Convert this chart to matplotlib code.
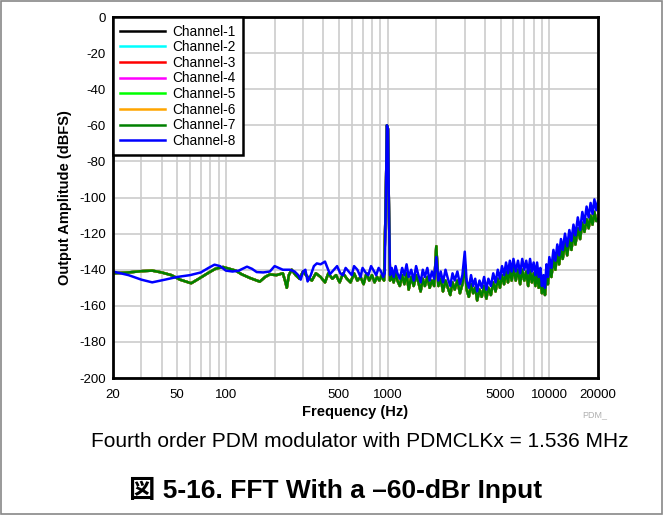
import matplotlib.pyplot as plt
import matplotlib.patches as patches
import numpy as np

plt.rcParams['font.family'] = ['Liberation Sans', 'Noto Sans CJK JP', 'DejaVu Sans']
plt.rcParams['axes.unicode_minus'] = False

CHANNELS = ["Channel-1", "Channel-2", "Channel-3", "Channel-4",
            "Channel-5", "Channel-6", "Channel-7", "Channel-8"]
COLORS = ["black", "cyan", "red", "magenta", "#00ff00", "orange", "#008000", "#0000ff"]

# channel 7 (green) trace, channels 1-6 lie under it
f_low = [20, 25, 30, 35, 40, 46, 52, 61, 68, 77, 86, 96, 105, 115, 125, 141, 150, 162, 175, 187,
         205, 225, 232, 238, 245, 255, 270, 285, 300, 320, 340, 360, 385, 410, 430, 455, 480, 505,
         530, 560, 590, 620, 650, 680, 710, 740, 770, 800, 830, 860, 890, 920, 950, 975, 990, 1005,
         1020, 1035, 1060, 1090, 1120, 1150, 1190, 1230, 1270, 1310, 1350, 1400, 1450, 1500, 1550,
         1600, 1650, 1700, 1760, 1820, 1880, 1940, 2000, 2060, 2130, 2200, 2280, 2360, 2440, 2520,
         2600, 2700, 2800, 2900, 3000, 3080, 3180, 3280, 3380, 3480, 3580, 3700, 3820, 3950, 4080,
         4200, 4350, 4500, 4650, 4800, 4950, 5100, 5250, 5400, 5550, 5700, 5850, 6000, 6200, 6400,
         6600, 6800, 7000, 7200, 7400, 7600, 7800, 8000, 8200, 8400, 8600, 8800, 9000, 9200, 9400,
         9600, 9800, 10000, 10300, 10600, 10900, 11200, 11500, 11800, 12100, 12500, 12900, 13300,
         13700, 14100, 14500, 15000, 15500, 16000, 16500, 17000, 17500, 18000, 18500, 19000, 19500,
         20000]
a_low = [-142, -141.5, -140.8, -140.5, -141.5, -143, -145.5, -147.5, -145, -142, -139.5, -138.5,
         -139.5, -140.5, -142.5, -144.6, -145.5, -146.6, -144, -142.6, -143, -142, -146, -150, -143,
         -140, -143, -145, -141, -144, -146, -142, -144, -147, -142, -145, -143, -147, -142, -145,
         -147, -142, -146, -144, -148, -142, -146, -143, -147, -144, -146, -143, -146, -100, -60, -62,
         -110, -146, -143, -147, -142, -146, -149, -143, -148, -142, -151, -144, -149, -143, -147,
         -152, -145, -149, -144, -150, -146, -149, -127, -149, -145, -152, -146, -150, -154, -147,
         -151, -146, -153, -148, -137, -151, -155, -148, -153, -150, -157, -151, -155, -149, -156,
         -150, -154, -147, -152, -145, -150, -143, -148, -141, -147, -140, -146, -139, -146, -140,
         -148, -140, -146, -141, -149, -140, -147, -142, -149, -142, -150, -144, -153, -147, -154,
         -142, -148, -138, -144, -134, -140, -131, -137, -128, -134, -125, -132, -123,
         -129, -120, -126, -117, -123, -114, -119, -112, -117, -110, -115, -108, -113,
         -112]

# channel 8 (blue) trace, drawn on top
f_high = [20, 25, 30, 35, 42, 50, 60, 70, 78, 85, 92, 100, 110, 120, 135, 145, 155, 170, 187, 200,
          212, 225, 248, 266, 280, 290, 300, 310, 320, 335, 350, 365, 385, 410, 425, 440, 465, 487,
          510, 530, 550, 575, 600, 620, 650, 680, 700, 730, 760, 790, 820, 850, 880, 910, 940, 960,
          975, 990, 1005, 1020, 1035, 1060, 1090, 1120, 1150, 1190, 1230, 1270, 1310, 1350, 1400,
          1450, 1500, 1550, 1600, 1650, 1700, 1760, 1820, 1880, 1940, 2000, 2060, 2130, 2200, 2280,
          2360, 2440, 2520, 2600, 2700, 2800, 2900, 3000, 3080, 3180, 3280, 3380, 3480, 3580, 3700,
          3820, 3950, 4080, 4200, 4350, 4500, 4650, 4800, 4950, 5100, 5250, 5400, 5550, 5700, 5850,
          6000, 6200, 6400, 6600, 6800, 7000, 7200, 7400, 7600, 7800, 8000, 8200, 8400, 8600, 8800,
          9000, 9200, 9400, 9600, 9800, 10000, 10300, 10600, 10900, 11200, 11500, 11800, 12100,
          12500, 12900, 13300, 13700, 14100, 14500, 15000, 15500, 16000, 16500, 17000, 17500, 18000,
          18500, 19000, 19500, 20000]
a_high = [-141, -143, -145.5, -147, -145.5, -144, -143, -141.5, -139, -137.2, -138, -140.5, -141,
          -140.5, -138.3, -139.5, -141.3, -141.5, -141, -138, -139, -140, -140, -141, -143, -145.5,
          -141, -140, -146.5, -143, -138, -136.5, -137, -135.5, -139, -142.5, -140, -138, -142, -143,
          -139, -141, -143, -138, -140, -144, -139, -141.5, -143, -138, -140.5, -143, -139, -141,
          -144, -142, -100, -60, -62, -110, -143, -139, -144, -138, -142, -145, -139, -143, -137,
          -144, -140, -146, -138, -143, -147, -140, -144, -139, -146, -141, -145, -133, -146, -141,
          -147, -140, -145, -149, -142, -146, -141, -148, -143, -130, -146, -150, -143, -149, -145,
          -152, -146, -150, -144, -151, -145, -149, -142, -147, -140, -145, -138, -143, -136, -142,
          -135, -141, -134, -141, -135, -142, -134, -140, -135, -142, -134, -141, -136, -143, -136,
          -144, -139, -149, -143, -150, -137, -144, -133, -139, -129, -135, -126, -132, -123, -129,
          -120, -127, -118, -124, -115, -121, -111, -118, -108, -114, -105, -111, -103, -109, -101,
          -107, -102]

fig = plt.figure(figsize=(6.64, 5.16), dpi=100)
ax = fig.add_axes([0.170, 0.2674, 0.7306, 0.6996])

for i, (name, color) in enumerate(zip(CHANNELS, COLORS)):
    if i == 7:
        ax.plot(f_high, a_high, color=color, lw=1.8, label=name)
    else:
        ax.plot(f_low, a_low, color=color, lw=1.8, label=name)

ax.set_xscale('log')
ax.set_xlim(20, 20000)
ax.set_ylim(-200, 0)
ax.set_yticks(np.arange(-200, 1, 20))
ax.set_xticks([20, 50, 100, 500, 1000, 5000, 10000, 20000])
ax.set_xticklabels(["20", "50", "100", "500", "1000", "5000", "10000", "20000"])
ax.grid(True, which='both', color='#cccccc', lw=1.2)
ax.set_axisbelow(True)
ax.tick_params(which='both', length=0, labelsize=9.5)
ax.tick_params(axis='x', pad=8)
ax.tick_params(axis='y', pad=5)
for s in ax.spines.values():
    s.set_linewidth(2)
    s.set_color('black')

ax.set_xlabel("Frequency (Hz)", fontsize=10.5, fontweight='bold', labelpad=3)
ax.set_ylabel("Output Amplitude (dBFS)", fontsize=10.5, fontweight='bold', labelpad=5)

leg = ax.legend(loc='upper left', borderaxespad=0, fontsize=9.8, handlelength=3.3,
                handletextpad=0.5, labelspacing=0.12, fancybox=False, framealpha=1,
                borderpad=0.55)
leg.get_frame().set_edgecolor('black')
leg.get_frame().set_linewidth(1.8)

fig.text(0.896, 0.192, "PDM_", fontsize=6.5, color='#b0b0b0', ha='center')
fig.text(0.542, 0.145, "Fourth order PDM modulator with PDMCLKx = 1.536 MHz",
         fontsize=15, ha='center', va='center')
fig.text(0.505, 0.05, "図 5-16. FFT With a –60-dBr Input", fontsize=19,
         fontweight='bold', ha='center', va='center')

fig.patches.append(patches.Rectangle((0.002, 0.003), 0.995, 0.995, transform=fig.transFigure,
                                     fill=False, edgecolor='#888888', lw=1.2))

fig.savefig("out.png", dpi=100)
